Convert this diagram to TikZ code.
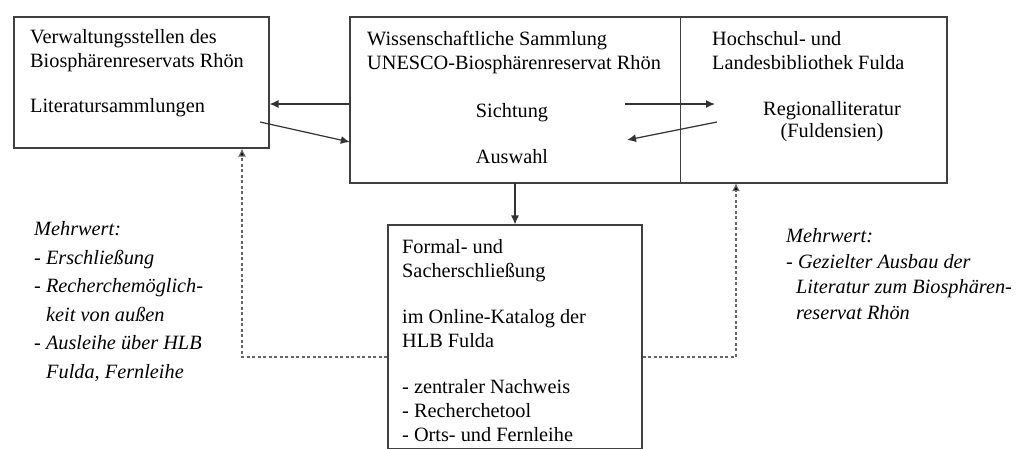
\documentclass[tikz,border=0pt]{standalone}
\usepackage{fontspec}
\setmainfont{Liberation Serif}
\usetikzlibrary{arrows.meta}
\begin{document}
\begin{tikzpicture}[x=1pt, y=-1pt,
  box/.style={draw=black!75, line width=1.1pt, inner sep=0pt},
  txt/.style={inner sep=0pt, anchor=north west, align=left, font=\fontsize{20.3}{24}\selectfont},
  note/.style={inner sep=0pt, anchor=north west, align=left, font=\fontsize{20.3}{28.5}\selectfont\itshape},
  arr/.style={draw=black!80, line width=1.2pt, -{Latex[length=9pt,width=8pt]}},
  dashlink/.style={draw=black!60, line width=1.2pt, dash pattern=on 3pt off 2.5pt, -{Latex[length=8pt,width=8pt,fill=black]}}]
\path[fill=white, use as bounding box] (0,0) rectangle (1026,448);
\node[box, minimum width=255pt, minimum height=131pt] (verw) at (141.5,82.5){};
\node[inner sep=0pt, minimum width=330pt, minimum height=166pt] (samml) at (515,100){};
\node[inner sep=0pt, minimum width=267pt, minimum height=166pt] (hlb) at (813.5,100){};
\node[box, minimum width=597pt, minimum height=166pt] (bund) at (648.5,100){};
\draw[black!75, line width=0.6pt] (samml.north east) -- (samml.south east);
\node[box, minimum width=254pt, minimum height=224pt] (katalog) at (515,337){};
\node[txt] (verwtxt) at (30,29.5){Verwaltungsstellen des\\Biosphärenreservats Rhön\\[21pt]Literatursammlungen};
\node[txt] (sammltxt) at (367,31.5){Wissenschaftliche Sammlung\\UNESCO-Biosphärenreservat Rhön};
\node[txt, anchor=base] (sicht) at (512,117){Sichtung};
\node[txt, anchor=base] (ausw) at (512,163){Auswahl};
\node[txt] (hlbtxt) at (712,31.5){Hochschul- und\\Landesbibliothek Fulda};
\node[txt, anchor=north, align=center, font=\fontsize{20.3}{22}\selectfont] (regio) at (832,101.5){Regionalliteratur\\(Fuldensien)};
\node[txt] (kattxt) at (402,239.5){Formal- und\\Sacherschließung\\[22pt]im Online-Katalog der\\HLB Fulda\\[22pt]- zentraler Nachweis\\- Recherchetool\\- Orts- und Fernleihe};
\node[note] (mwl) at (34,221.5){Mehrwert:\\- Erschließung\\- Recherchemöglich-\\\hspace*{12pt}keit von außen\\- Ausleihe über HLB\\\hspace*{12pt}Fulda, Fernleihe};
\node[note, font=\fontsize{20.3}{25.5}\selectfont\itshape] (mwr) at (786,228.5){Mehrwert:\\- Gezielter Ausbau der\\\hspace*{10pt}Literatur zum Biosphären-\\\hspace*{10pt}reservat Rhön};
\coordinate (a2) at (260,122);
\coordinate (a3) at (625,104);
\coordinate (a4) at (717,122);
\draw[arr] (samml.west |- 0,104) -- (verw.east |- 0,104);
\draw[arr] (a2) -- (samml.west |- 0,142);
\draw[arr] (a3) -- (715,104);
\draw[arr] (a4) -- (627,140);
\draw[arr] (samml.south) -- (katalog.north);
\draw[dashlink] (katalog.west |- 0,357) -| (verw.south -| 242,0);
\draw[dashlink] (katalog.east |- 0,357) -| (hlb.south -| 736,0);
\end{tikzpicture}
\end{document}
